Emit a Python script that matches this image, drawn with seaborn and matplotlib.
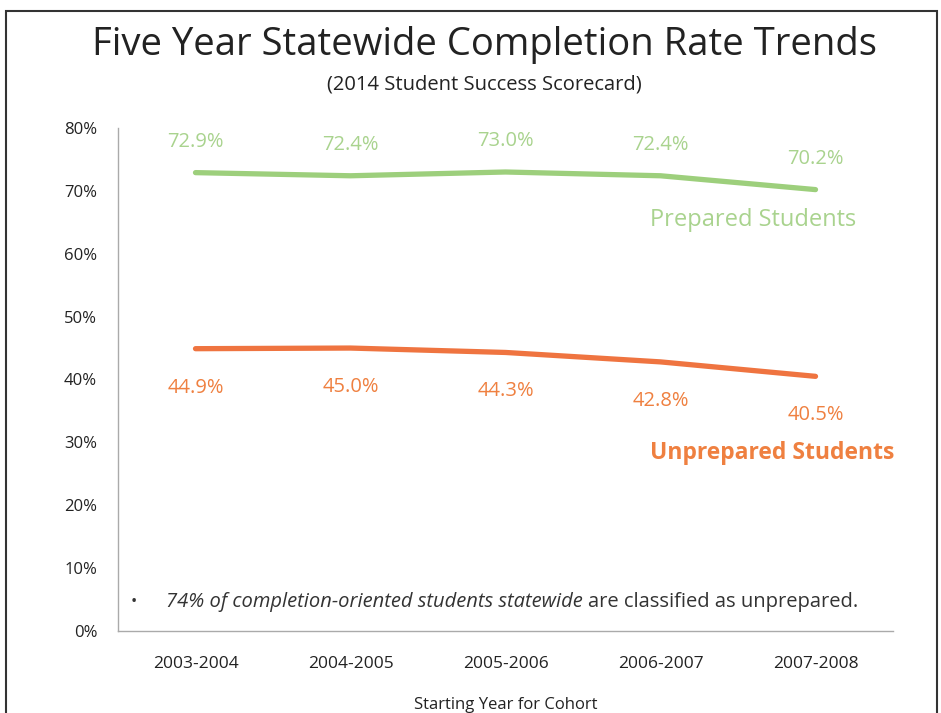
import matplotlib
matplotlib.use("Agg")
import matplotlib.pyplot as plt
from matplotlib.patches import Rectangle
from matplotlib.ticker import FixedLocator
import pandas as pd
import seaborn as sns

cohorts = ["2003-2004", "2004-2005", "2005-2006", "2006-2007", "2007-2008"]
prepared = [72.9, 72.4, 73.0, 72.4, 70.2]
unprepared = [44.9, 45.0, 44.3, 42.8, 40.5]
y_ticks = [0, 10, 20, 30, 40, 50, 60, 70, 80]

green = "#9dcf7c"
green_txt = "#a9d38e"
orange = "#ef7440"
orange_txt = "#ef8040"

df = pd.DataFrame({
    "cohort": cohorts * 2,
    "rate": prepared + unprepared,
    "group": ["Prepared Students"] * 5 + ["Unprepared Students"] * 5,
})

sns.set_style("white")
plt.rcParams["font.family"] = ["Open Sans", "DejaVu Sans"]

fig = plt.figure(figsize=(9.41, 7.13), dpi=100)
ax = fig.add_axes([0.1254, 0.115, 0.8236, 0.7055])

sns.lineplot(data=df, x="cohort", y="rate", hue="group",
             palette={"Prepared Students": green, "Unprepared Students": orange},
             linewidth=3.8, legend=False, ax=ax)

ax.set_xlim(-0.5, 4.5)
ax.set_ylim(0, 80)
ax.set_yticks(y_ticks)
ax.set_yticklabels([f"{v}%" for v in y_ticks], fontsize=12, color="#222222")
ax.set_xticks(range(len(cohorts)))
ax.set_xticklabels(cohorts, fontsize=12.5, color="#222222")
ax.xaxis.set_minor_locator(FixedLocator([i - 0.5 for i in range(len(cohorts) + 1)]))
ax.tick_params(axis="x", which="major", length=0, pad=18)
ax.tick_params(axis="x", which="minor", length=4, direction="out", color="#999999")
ax.tick_params(axis="y", length=5, direction="out", color="#999999", pad=10)
ax.set_xlabel("Starting Year for Cohort", fontsize=12, color="#222222", labelpad=18)
ax.set_ylabel("")
for s in ["top", "right"]:
    ax.spines[s].set_visible(False)
for s in ["left", "bottom"]:
    ax.spines[s].set_color("#aaaaaa")
    ax.spines[s].set_linewidth(1)

# data labels
for i, v in enumerate(prepared):
    ax.annotate(f"{v:.1f}%", (i, v), xytext=(0, 22), textcoords="offset points",
                ha="center", va="center", fontsize=14.5, color=green_txt)
for i, v in enumerate(unprepared):
    ax.annotate(f"{v:.1f}%", (i, v), xytext=(0, -28), textcoords="offset points",
                ha="center", va="center", fontsize=14.5, color=orange_txt)

ax.text(3.6, 65.3, "Prepared Students", ha="center", va="center",
        fontsize=17, color=green_txt)
ax.text(3.72, 28.3, "Unprepared Students", ha="center", va="center",
        fontsize=16.5, color=orange_txt, fontweight="bold")

# note
ax.text(-0.42, 4.6, "\u2022", ha="left", va="center", fontsize=12, color="#333333")
t1 = ax.text(-0.19, 4.6, "74% of completion-oriented students statewide", ha="left",
             va="center", fontsize=14.5, color="#333333", style="italic")
ax.annotate("are classified as unprepared.", xy=(1, 0.5), xycoords=t1,
            xytext=(4, 0), textcoords="offset points", ha="left", va="center",
            fontsize=14.5, color="#333333")

fig.text(0.515, 0.937, "Five Year Statewide Completion Rate Trends", ha="center",
         va="center", fontsize=27.5, color="#222222")
fig.text(0.515, 0.881, "(2014 Student Success Scorecard)", ha="center",
         va="center", fontsize=14.5, color="#222222")

fig.patches.append(Rectangle((0.006, -0.01), 0.99, 0.995, transform=fig.transFigure,
                             fill=False, edgecolor="#333333", linewidth=1.5))

fig.savefig("out.png", dpi=100)
